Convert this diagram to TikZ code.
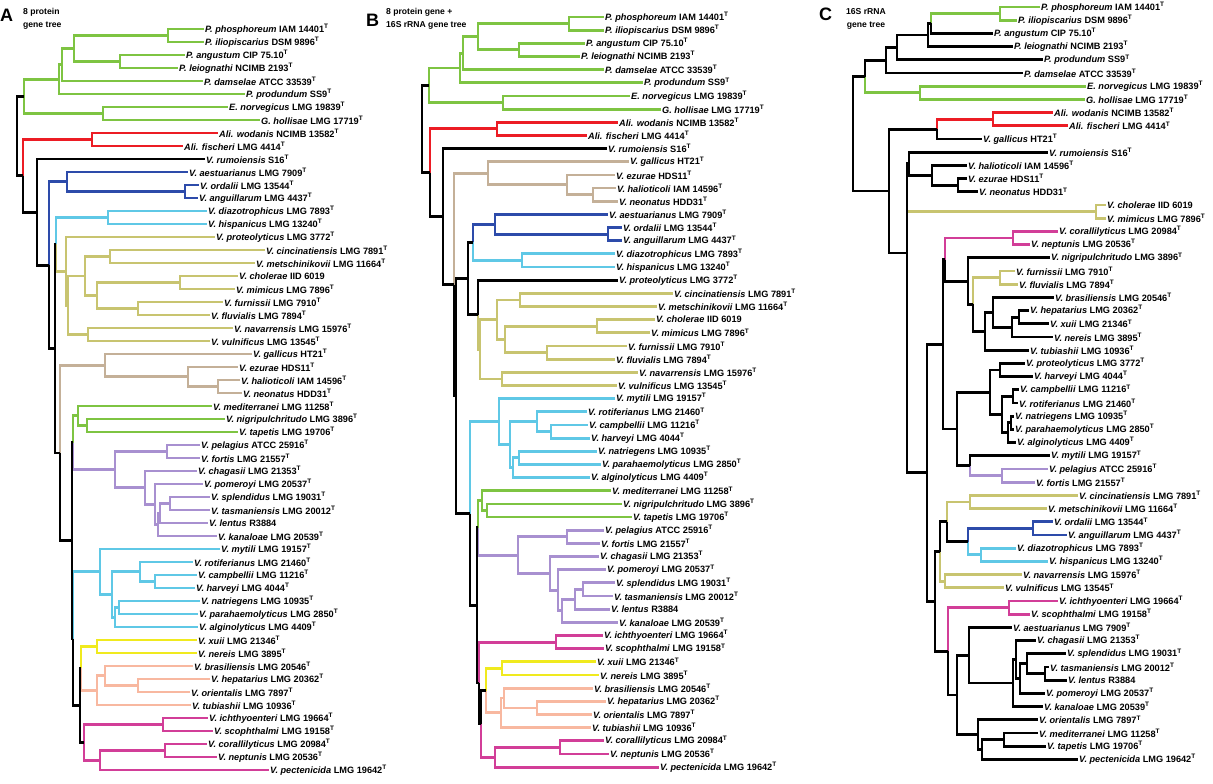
\documentclass[tikz,border=0pt]{standalone}
\usepackage{fontspec}
\setmainfont{Liberation Sans}
\usetikzlibrary{calc}

\definecolor{cgrn}{RGB}{126,196,66}
\definecolor{cred}{RGB}{236,28,36}
\definecolor{cblu}{RGB}{45,75,170}
\definecolor{ccyn}{RGB}{95,200,230}
\definecolor{coli}{RGB}{200,196,112}
\definecolor{ctan}{RGB}{196,176,152}
\definecolor{cpur}{RGB}{168,144,208}
\definecolor{cyel}{RGB}{240,234,30}
\definecolor{csal}{RGB}{248,184,160}
\definecolor{cmag}{RGB}{210,62,152}

% species labels
\newcommand\sxT[2]{\textit{#1} #2\textsuperscript{T}}
\newcommand\sxN[2]{\textit{#1} #2}
\newcommand\sxphos{\sxT{P. phosphoreum}{IAM 14401}}
\newcommand\sxilio{\sxT{P. iliopiscarius}{DSM 9896}}
\newcommand\sxang{\sxT{P. angustum}{CIP 75.10}}
\newcommand\sxleio{\sxT{P. leiognathi}{NCIMB 2193}}
\newcommand\sxdam{\sxT{P. damselae}{ATCC 33539}}
\newcommand\sxprof{\sxT{P. produndum}{SS9}}
\newcommand\sxnorv{\sxT{E. norvegicus}{LMG 19839}}
\newcommand\sxholl{\sxT{G. hollisae}{LMG 17719}}
\newcommand\sxwod{\sxT{Ali. wodanis}{NCIMB 13582}}
\newcommand\sxfis{\sxT{Ali. fischeri}{LMG 4414}}
\newcommand\sxrum{\sxT{V. rumoiensis}{S16}}
\newcommand\sxaes{\sxT{V. aestuarianus}{LMG 7909}}
\newcommand\sxord{\sxT{V. ordalii}{LMG 13544}}
\newcommand\sxangu{\sxT{V. anguillarum}{LMG 4437}}
\newcommand\sxdia{\sxT{V. diazotrophicus}{LMG 7893}}
\newcommand\sxhis{\sxT{V. hispanicus}{LMG 13240}}
\newcommand\sxpro{\sxT{V. proteolyticus}{LMG 3772}}
\newcommand\sxcin{\sxT{V. cincinatiensis}{LMG 7891}}
\newcommand\sxmet{\sxT{V. metschinikovii}{LMG 11664}}
\newcommand\sxcho{\sxN{V. cholerae}{IID 6019}}
\newcommand\sxmim{\sxT{V. mimicus}{LMG 7896}}
\newcommand\sxfur{\sxT{V. furnissii}{LMG 7910}}
\newcommand\sxflu{\sxT{V. fluvialis}{LMG 7894}}
\newcommand\sxnav{\sxT{V. navarrensis}{LMG 15976}}
\newcommand\sxvul{\sxT{V. vulnificus}{LMG 13545}}
\newcommand\sxgal{\sxT{V. gallicus}{HT21}}
\newcommand\sxezu{\sxT{V. ezurae}{HDS11}}
\newcommand\sxhal{\sxT{V. halioticoli}{IAM 14596}}
\newcommand\sxneo{\sxT{V. neonatus}{HDD31}}
\newcommand\sxmed{\sxT{V. mediterranei}{LMG 11258}}
\newcommand\sxnig{\sxT{V. nigripulchritudo}{LMG 3896}}
\newcommand\sxtap{\sxT{V. tapetis}{LMG 19706}}
\newcommand\sxpel{\sxT{V. pelagius}{ATCC 25916}}
\newcommand\sxfor{\sxT{V. fortis}{LMG 21557}}
\newcommand\sxcha{\sxT{V. chagasii}{LMG 21353}}
\newcommand\sxpom{\sxT{V. pomeroyi}{LMG 20537}}
\newcommand\sxspl{\sxT{V. splendidus}{LMG 19031}}
\newcommand\sxtas{\sxT{V. tasmaniensis}{LMG 20012}}
\newcommand\sxlen{\sxN{V. lentus}{R3884}}
\newcommand\sxkan{\sxT{V. kanaloae}{LMG 20539}}
\newcommand\sxmyt{\sxT{V. mytili}{LMG 19157}}
\newcommand\sxrot{\sxT{V. rotiferianus}{LMG 21460}}
\newcommand\sxcam{\sxT{V. campbellii}{LMG 11216}}
\newcommand\sxhar{\sxT{V. harveyi}{LMG 4044}}
\newcommand\sxnat{\sxT{V. natriegens}{LMG 10935}}
\newcommand\sxpar{\sxT{V. parahaemolyticus}{LMG 2850}}
\newcommand\sxalg{\sxT{V. alginolyticus}{LMG 4409}}
\newcommand\sxxui{\sxT{V. xuii}{LMG 21346}}
\newcommand\sxner{\sxT{V. nereis}{LMG 3895}}
\newcommand\sxbra{\sxT{V. brasiliensis}{LMG 20546}}
\newcommand\sxhep{\sxT{V. hepatarius}{LMG 20362}}
\newcommand\sxori{\sxT{V. orientalis}{LMG 7897}}
\newcommand\sxtub{\sxT{V. tubiashii}{LMG 10936}}
\newcommand\sxich{\sxT{V. ichthyoenteri}{LMG 19664}}
\newcommand\sxsco{\sxT{V. scophthalmi}{LMG 19158}}
\newcommand\sxcor{\sxT{V. corallilyticus}{LMG 20984}}
\newcommand\sxnep{\sxT{V. neptunis}{LMG 20536}}
\newcommand\sxpec{\sxT{V. pectenicida}{LMG 19642}}

% clade: name, x, first child, last child, style to first, style to last
\newcommand\clade[6]{%
  \path let \p1=($(#3)!.5!(#4)$) in coordinate (#1) at (#2pt,\y1);
  \draw[#5] (#1) |- (#3);
  \draw[#6] (#1) |- (#4);}

\begin{document}
\begin{tikzpicture}[x=1pt, y=-1pt,
  lf/.style={anchor=west, inner sep=1pt, font=\bfseries\fontsize{9.2}{11}\selectfont},
  hd/.style={anchor=base west, inner sep=0pt, font=\bfseries\fontsize{18}{18}\selectfont},
  sub/.style={anchor=north west, inner sep=0pt, align=left, font=\bfseries\fontsize{8.6}{13}\selectfont},
  br/.style={line width=2.8pt, line join=miter},
  kbr/.style={br, black},
  gbr/.style={br, cgrn},
  rbr/.style={br, cred},
  bbr/.style={br, cblu},
  cbr/.style={br, ccyn},
  obr/.style={br, coli},
  tbr/.style={br, ctan},
  pbr/.style={br, cpur},
  ybr/.style={br, cyel},
  sbr/.style={br, csal},
  mbr/.style={br, cmag}
]
\useasboundingbox (0,0) rectangle (1213,784);

% headings
\node[hd] (hA) at (0,22) {A};
\node[sub] (tA) at (23,8) {8 protein\\gene tree};
\node[hd] (hB) at (366,27) {B};
\node[sub] (tB) at (386,8) {8 protein gene +\\16S rRNA gene tree};
\node[hd] (hC) at (819,21) {C};
\node[sub, anchor=north, align=center] (tC) at (866,8) {16S rRNA\\gene tree};

% ---------- A: 8 protein gene tree ----------
\foreach \x/\lab [count=\i] in {204/\sxphos, 204/\sxilio, 185/\sxang, 178/\sxleio,
  203/\sxdam, 245/\sxprof, 228/\sxnorv, 260/\sxholl, 218/\sxwod, 183/\sxfis,
  205/\sxrum, 188/\sxaes, 199/\sxord, 198/\sxangu, 207/\sxdia, 207/\sxhis,
  215/\sxpro, 265/\sxcin, 255/\sxmet, 238/\sxcho, 235/\sxmim, 223/\sxfur,
  210/\sxflu, 233/\sxnav, 210/\sxvul, 252/\sxgal, 238/\sxezu, 240/\sxhal,
  242/\sxneo, 212/\sxmed, 225/\sxnig, 238/\sxtap, 200/\sxpel, 200/\sxfor,
  197/\sxcha, 203/\sxpom, 210/\sxspl, 210/\sxtas, 208/\sxlen, 217/\sxkan,
  220/\sxmyt, 193/\sxrot, 197/\sxcam, 195/\sxhar, 200/\sxnat, 198/\sxpar,
  198/\sxalg, 197/\sxxui, 197/\sxner, 193/\sxbra, 210/\sxhep, 190/\sxori,
  191/\sxtub, 208/\sxich, 213/\sxsco, 207/\sxcor, 217/\sxnep, 269/\sxpec}
  \node[lf] (a\i) at (\x,{16+13*\i}) {\lab};

\clade{aPI}{168}{a1}{a2}{gbr}{gbr}
\clade{aAL}{120}{a3}{a4}{gbr}{gbr}
\clade{aP4}{74}{aPI}{aAL}{gbr}{gbr}
\clade{aP5}{62}{aP4}{a5}{gbr}{gbr}
\clade{aP6}{59}{aP5}{a6}{gbr}{gbr}
\clade{aEG}{103}{a7}{a8}{gbr}{gbr}
\clade{aGrn}{24}{aP6}{aEG}{gbr}{gbr}
\clade{aRed}{92}{a9}{a10}{rbr}{rbr}
\clade{aOA}{185}{a13}{a14}{bbr}{bbr}
\clade{aBlu}{67}{a12}{aOA}{bbr}{bbr}
\clade{aCya}{108}{a15}{a16}{cbr}{cbr}
\clade{aCM}{110}{a18}{a19}{obr}{obr}
\clade{aChM}{180}{a20}{a21}{obr}{obr}
\clade{aFF}{138}{a22}{a23}{obr}{obr}
\clade{aCF}{97}{aChM}{aFF}{obr}{obr}
\clade{aX}{85}{aCM}{aCF}{obr}{obr}
\clade{aNV}{88}{a24}{a25}{obr}{obr}
\clade{aY}{68}{aX}{aNV}{obr}{obr}
\clade{aOl}{66}{a17}{aY}{obr}{obr}
\clade{aHN}{218}{a28}{a29}{tbr}{tbr}
\clade{aEHN}{188}{a27}{aHN}{tbr}{tbr}
\clade{aTan}{105}{a26}{aEHN}{tbr}{tbr}
\clade{aNT}{87}{a31}{a32}{gbr}{gbr}
\clade{aGr2}{78}{a30}{aNT}{gbr}{gbr}
\clade{aPF}{167}{a33}{a34}{pbr}{pbr}
\clade{aST}{170}{a37}{a38}{pbr}{pbr}
\clade{aSTL}{160}{aST}{a39}{pbr}{pbr}
\clade{aSTLK}{158}{aSTL}{a40}{pbr}{pbr}
\clade{aPom}{155}{a36}{aSTLK}{pbr}{pbr}
\clade{aCha}{145}{a35}{aPom}{pbr}{pbr}
\clade{aPur}{115}{aPF}{aCha}{pbr}{pbr}
\clade{aCH}{155}{a43}{a44}{cbr}{cbr}
\clade{aRCH}{140}{a42}{aCH}{cbr}{cbr}
\clade{aNP}{119}{a45}{a46}{cbr}{cbr}
\clade{aNPA}{115}{aNP}{a47}{cbr}{cbr}
\clade{aCyR}{112}{aRCH}{aNPA}{cbr}{cbr}
\clade{aCy2}{100}{a41}{aCyR}{cbr}{cbr}
\clade{aYel}{97}{a48}{a49}{ybr}{ybr}
\clade{aHO}{138}{a51}{a52}{sbr}{sbr}
\clade{aBH}{105}{a50}{aHO}{sbr}{sbr}
\clade{aSal}{97}{aBH}{a53}{sbr}{sbr}
\clade{aIS}{163}{a54}{a55}{mbr}{mbr}
\clade{aCN}{165}{a56}{a57}{mbr}{mbr}
\clade{aCNP}{100}{aCN}{a58}{mbr}{mbr}
\clade{aMag}{84}{aIS}{aCNP}{mbr}{mbr}
% backbone A
\clade{aN9a}{81}{aYel}{aSal}{ybr}{sbr}
\clade{aN9}{80}{aN9a}{aMag}{kbr}{kbr}
\clade{aN8}{73}{aCy2}{aN9}{cbr}{kbr}
\clade{aN7a}{73}{aGr2}{aPur}{gbr}{pbr}
\clade{aN7}{72}{aN7a}{aN8}{kbr}{kbr}
\clade{aN6}{60}{aTan}{aN7}{tbr}{kbr}
\clade{aN5a}{56}{aCya}{aOl}{cbr}{obr}
\clade{aN5}{55}{aN5a}{aN6}{kbr}{kbr}
\clade{aN4}{49}{aBlu}{aN5}{bbr}{kbr}
\clade{aN3}{37}{a11}{aN4}{kbr}{kbr}
\clade{aN2}{23}{aRed}{aN3}{rbr}{kbr}
\clade{aR}{17}{aGrn}{aN2}{kbr}{kbr}

% ---------- B: 8 protein + 16S rRNA gene tree ----------
\foreach \x/\lab [count=\i] in {604/\sxphos, 604/\sxilio, 585/\sxang, 580/\sxleio,
  604/\sxdam, 643/\sxprof, 630/\sxnorv, 661/\sxholl, 618/\sxwod, 587/\sxfis,
  607/\sxrum, 629/\sxgal, 615/\sxezu, 616/\sxhal, 618/\sxneo, 608/\sxaes,
  622/\sxord, 622/\sxangu, 615/\sxdia, 615/\sxhis, 618/\sxpro, 673/\sxcin,
  657/\sxmet, 655/\sxcho, 650/\sxmim, 627/\sxfur, 615/\sxflu, 638/\sxnav,
  617/\sxvul, 615/\sxmyt, 587/\sxrot, 588/\sxcam, 590/\sxhar, 597/\sxnat,
  601/\sxpar, 590/\sxalg, 611/\sxmed, 622/\sxnig, 632/\sxtap, 604/\sxpel,
  600/\sxfor, 599/\sxcha, 606/\sxpom, 615/\sxspl, 613/\sxtas, 610/\sxlen,
  618/\sxkan, 603/\sxich, 604/\sxsco, 596/\sxxui, 599/\sxner, 593/\sxbra,
  606/\sxhep, 592/\sxori, 591/\sxtub, 604/\sxcor, 609/\sxnep, 659/\sxpec}
  \node[lf] (b\i) at (\x,{3.84+13.16*\i}) {\lab};

\clade{bPI}{569}{b1}{b2}{gbr}{gbr}
\clade{bAL}{519}{b3}{b4}{gbr}{gbr}
\clade{bP4}{478}{bPI}{bAL}{gbr}{gbr}
\clade{bP5}{463}{bP4}{b5}{gbr}{gbr}
\clade{bP6}{460}{bP5}{b6}{gbr}{gbr}
\clade{bEG}{503}{b7}{b8}{gbr}{gbr}
\clade{bGrn}{429}{bP6}{bEG}{gbr}{gbr}
\clade{bRed}{497}{b9}{b10}{rbr}{rbr}
\clade{bHN}{593}{b14}{b15}{tbr}{tbr}
\clade{bEHN}{567}{b13}{bHN}{tbr}{tbr}
\clade{bTan}{488}{b12}{bEHN}{tbr}{tbr}
\clade{bOA}{608}{b17}{b18}{bbr}{bbr}
\clade{bBlu}{495}{b16}{bOA}{bbr}{bbr}
\clade{bCya}{522}{b19}{b20}{cbr}{cbr}
\clade{bCM}{520}{b22}{b23}{obr}{obr}
\clade{bChM}{597}{b24}{b25}{obr}{obr}
\clade{bFF}{547}{b26}{b27}{obr}{obr}
\clade{bCF}{505}{bChM}{bFF}{obr}{obr}
\clade{bOa}{497}{bCM}{bCF}{obr}{obr}
\clade{bNV}{502}{b28}{b29}{obr}{obr}
\clade{bOb}{480}{bOa}{bNV}{obr}{obr}
\clade{bPro}{478}{b21}{bOb}{kbr}{obr}
\clade{bCH}{551}{b32}{b33}{cbr}{cbr}
\clade{bRCH}{537}{b31}{bCH}{cbr}{cbr}
\clade{bNP}{519}{b34}{b35}{cbr}{cbr}
\clade{bNPA}{513}{bNP}{b36}{cbr}{cbr}
\clade{bCyR}{510}{bRCH}{bNPA}{cbr}{cbr}
\clade{bCy2}{499}{b30}{bCyR}{cbr}{cbr}
\clade{bNT}{487}{b38}{b39}{gbr}{gbr}
\clade{bGr2}{482}{b37}{bNT}{gbr}{gbr}
\clade{bPF}{567}{b40}{b41}{pbr}{pbr}
\clade{bST}{583}{b44}{b45}{pbr}{pbr}
\clade{bSTL}{575}{bST}{b46}{pbr}{pbr}
\clade{bSTLK}{562}{bSTL}{b47}{pbr}{pbr}
\clade{bPom}{558}{b43}{bSTLK}{pbr}{pbr}
\clade{bCha}{550}{b42}{bPom}{pbr}{pbr}
\clade{bPur}{518}{bPF}{bCha}{pbr}{pbr}
\clade{bIS}{556}{b48}{b49}{mbr}{mbr}
\clade{bYel}{502}{b50}{b51}{ybr}{ybr}
\clade{bHO}{537}{b53}{b54}{sbr}{sbr}
\clade{bBH}{504}{b52}{bHO}{sbr}{sbr}
\clade{bSal}{501}{bBH}{b55}{sbr}{sbr}
\clade{bCN}{560}{b56}{b57}{mbr}{mbr}
\clade{bMag}{495}{bCN}{b58}{mbr}{mbr}
% backbone B
\clade{bN10a}{486}{bYel}{bSal}{ybr}{sbr}
\clade{bN10}{481}{bN10a}{bMag}{kbr}{mbr}
\clade{bN9}{479}{bIS}{bN10}{mbr}{kbr}
\clade{bN8a}{478}{bGr2}{bPur}{gbr}{pbr}
\clade{bN8}{477}{bN8a}{bN9}{kbr}{kbr}
\clade{bN7}{470}{bCy2}{bN8}{cbr}{kbr}
\clade{bN5a}{473}{bBlu}{bCya}{bbr}{cbr}
\clade{bN5}{468}{bN5a}{bPro}{kbr}{kbr}
\clade{bN4b}{456}{bN5}{bN7}{kbr}{kbr}
\clade{bN4}{454}{bTan}{bN4b}{tbr}{kbr}
\clade{bN3}{443}{b11}{bN4}{kbr}{kbr}
\clade{bN2}{430}{bRed}{bN3}{rbr}{kbr}
\clade{bR}{422}{bGrn}{bN2}{kbr}{kbr}

% ---------- C: 16S rRNA gene tree ----------
\foreach \x/\lab [count=\i] in {1040/\sxphos, 1017/\sxilio, 993/\sxang, 1013/\sxleio,
  1043/\sxprof, 1023/\sxdam, 1086/\sxnorv, 1085/\sxholl, 1053/\sxwod, 1068/\sxfis,
  982/\sxgal, 1048/\sxrum, 967/\sxhal, 967/\sxezu, 978/\sxneo, 1106/\sxcho,
  1106/\sxmim, 1058/\sxcor, 1030/\sxnep, 1050/\sxnig, 1015/\sxfur, 1018/\sxflu,
  1054/\sxbra, 1029/\sxhep, 1049/\sxxui, 1053/\sxner, 1029/\sxtub, 1025/\sxpro,
  1033/\sxhar, 1019/\sxcam, 1018/\sxrot, 1014/\sxnat, 1014/\sxpar, 1016/\sxalg,
  1050/\sxmyt, 1048/\sxpel, 1035/\sxfor, 1078/\sxcin, 1047/\sxmet, 1053/\sxord,
  1067/\sxangu, 1016/\sxdia, 1048/\sxhis, 1022/\sxnav, 1004/\sxvul, 1058/\sxich,
  1030/\sxsco, 1012/\sxaes, 1036/\sxcha, 1066/\sxspl, 1049/\sxtas, 1067/\sxlen,
  1045/\sxpom, 1043/\sxkan, 1038/\sxori, 1038/\sxmed, 1046/\sxtap, 1078/\sxpec}
  \node[lf] (c\i) at (\x,{-6.2+13.2*\i}) {\lab};

\clade{cPI}{1000}{c1}{c2}{gbr}{gbr}
\clade{cPa}{931}{cPI}{c3}{gbr}{kbr}
\clade{cPb}{928}{cPa}{c4}{kbr}{kbr}
\clade{cPc}{897}{cPb}{c5}{kbr}{kbr}
\clade{cPd}{886}{cPc}{c6}{kbr}{kbr}
\clade{cEG}{920}{c7}{c8}{gbr}{gbr}
\clade{cTop}{865}{cPd}{cEG}{kbr}{gbr}
\clade{cRed}{993}{c9}{c10}{rbr}{rbr}
\clade{cRG}{937}{cRed}{c11}{rbr}{kbr}
\clade{cEN}{958}{c14}{c15}{kbr}{kbr}
\clade{cHEN}{932}{c13}{cEN}{kbr}{kbr}
\clade{cRum}{909}{c12}{cHEN}{kbr}{kbr}
\clade{cChoM}{1096}{c16}{c17}{obr}{obr}
\clade{cMag}{1013}{c18}{c19}{mbr}{mbr}
\clade{cHX}{1019}{c24}{c25}{kbr}{kbr}
\clade{cHXN}{1012}{cHX}{c26}{kbr}{kbr}
\clade{cB1}{993}{c23}{cHXN}{kbr}{kbr}
\clade{cB2}{985}{cB1}{c27}{kbr}{kbr}
\clade{cFF}{1000}{c21}{c22}{obr}{obr}
\clade{cFB}{973}{cFF}{cB2}{obr}{kbr}
\clade{cNFB}{968}{c20}{cFB}{kbr}{kbr}
\clade{cM}{945}{cMag}{cNFB}{mbr}{kbr}
\clade{cPH}{1000}{c28}{c29}{kbr}{kbr}
\clade{cCR}{1013}{c30}{c31}{kbr}{kbr}
\clade{cNP}{1011}{c32}{c33}{kbr}{kbr}
\clade{cNPA}{1008}{cNP}{c34}{kbr}{kbr}
\clade{cCRN}{1002}{cCR}{cNPA}{kbr}{kbr}
\clade{cRest}{990}{cPH}{cCRN}{kbr}{kbr}
\clade{cPF}{1002}{c36}{c37}{pbr}{pbr}
\clade{cMPF}{970}{c35}{cPF}{kbr}{pbr}
\clade{cPM}{957}{cRest}{cMPF}{kbr}{kbr}
\clade{cCM}{970}{c38}{c39}{obr}{obr}
\clade{cBlu}{1033}{c40}{c41}{bbr}{bbr}
\clade{cCya}{981}{c42}{c43}{cbr}{cbr}
\clade{cBC}{968}{cBlu}{cCya}{bbr}{cbr}
\clade{cOBC}{947}{cCM}{cBC}{obr}{kbr}
\clade{cNV}{945}{c44}{c45}{obr}{obr}
\clade{cIS}{1009}{c46}{c47}{mbr}{mbr}
\clade{cTL}{1045}{c51}{c52}{kbr}{kbr}
\clade{cSTL}{1027}{c50}{cTL}{kbr}{kbr}
\clade{cSTLP}{1020}{cSTL}{c53}{kbr}{kbr}
\clade{cChaA}{1016}{c49}{cSTLP}{kbr}{kbr}
\clade{cCha}{1013}{cChaA}{c54}{kbr}{kbr}
\clade{cAes}{969}{c48}{cCha}{kbr}{kbr}
\clade{cMT}{1004}{c56}{c57}{kbr}{kbr}
\clade{cMTP}{982}{cMT}{c58}{kbr}{kbr}
\clade{cOMTP}{978}{c55}{cMTP}{kbr}{kbr}
\clade{cAesO}{957}{cAes}{cOMTP}{kbr}{kbr}
\clade{cMagAes}{948}{cIS}{cAesO}{mbr}{kbr}
% backbone C
\clade{cN7}{940}{cOBC}{cNV}{kbr}{obr}
\clade{cN6}{935}{cN7}{cMagAes}{kbr}{kbr}
\clade{cN5}{943}{cM}{cPM}{kbr}{kbr}
\clade{cN4}{927}{cN5}{cN6}{kbr}{kbr}
\clade{cN3b}{907}{cChoM}{cN4}{obr}{kbr}
\clade{cN3}{907}{cRum}{cN3b}{kbr}{kbr}
\clade{cN2}{889}{cRG}{cN3}{kbr}{kbr}
\clade{cR}{853}{cTop}{cN2}{kbr}{kbr}
\end{tikzpicture}
\end{document}
